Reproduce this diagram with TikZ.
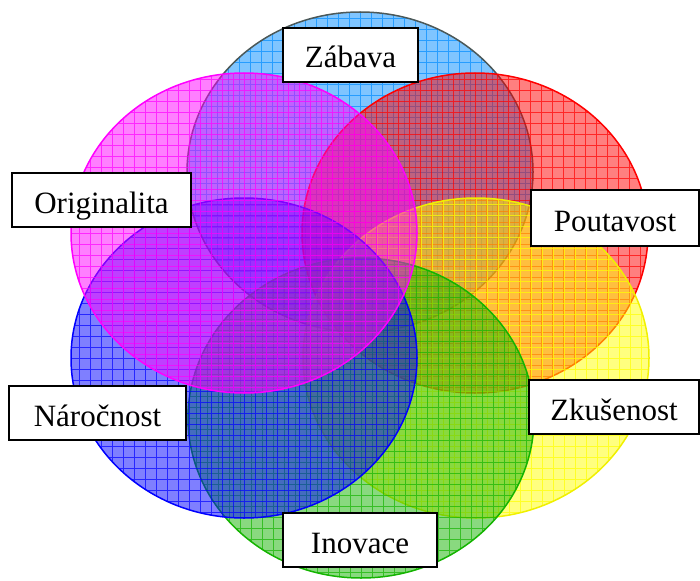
\documentclass[tikz,border=0pt]{standalone}
\usepackage{fontspec}
\setmainfont{Liberation Serif}
\usetikzlibrary{shapes.geometric}
\definecolor{zcol}{RGB}{0,140,255}
\definecolor{zbord}{RGB}{75,88,88}
\definecolor{pcol}{RGB}{255,0,0}
\definecolor{kcol}{RGB}{255,255,0}
\definecolor{kbord}{RGB}{240,240,0}
\definecolor{icol}{RGB}{20,180,0}
\definecolor{ncol}{RGB}{0,0,255}
\definecolor{ocol}{RGB}{255,0,255}
\tikzset{
  venn/.style 2 args={ellipse, minimum width=346pt, minimum height=320pt,
    inner sep=0pt, outer sep=0pt, draw=#2, line width=1.5pt, fill=#1, fill opacity=0.5,
    path picture={\draw[#1, line width=0.9pt, draw opacity=0.7, xstep=11pt, ystep=11pt]
      (path picture bounding box.south west) grid (path picture bounding box.north east);}},
  lbl/.style={draw=black, line width=1.6pt, fill=white, inner sep=0pt,
    minimum height=54pt, text height=30pt, text depth=4pt,
    font=\fontsize{31}{36}\selectfont}
}
\begin{document}
\begin{tikzpicture}[x=1pt,y=-1pt]
\useasboundingbox (0,0) rectangle (700,580);
\node[venn={zcol}{zbord}] (ez) at (360,172) {};
\node[venn={pcol}{pcol}] (ep) at (475,233) {};
\node[venn={kcol}{kbord}] (ek) at (476,358) {};
\node[venn={icol}{icol}] (ei) at (361,418) {};
\node[venn={ncol}{ncol}] (en) at (244,358) {};
\node[venn={ocol}{ocol}] (eo) at (244,233) {};
\node[lbl, minimum width=135pt] (lz) at (350.5,55) {Zábava};
\node[lbl, minimum width=179pt] (lo) at (101.5,200) {Originalita};
\node[lbl, minimum width=168pt, minimum height=56pt] (lp) at (615,218) {Poutavost};
\node[lbl, minimum width=177pt] (ln) at (97.5,413) {Náročnost};
\node[lbl, minimum width=170pt] (lk) at (614,407) {Zkušenost};
\node[lbl, minimum width=154pt] (li) at (360,540) {Inovace};
\end{tikzpicture}
\end{document}
